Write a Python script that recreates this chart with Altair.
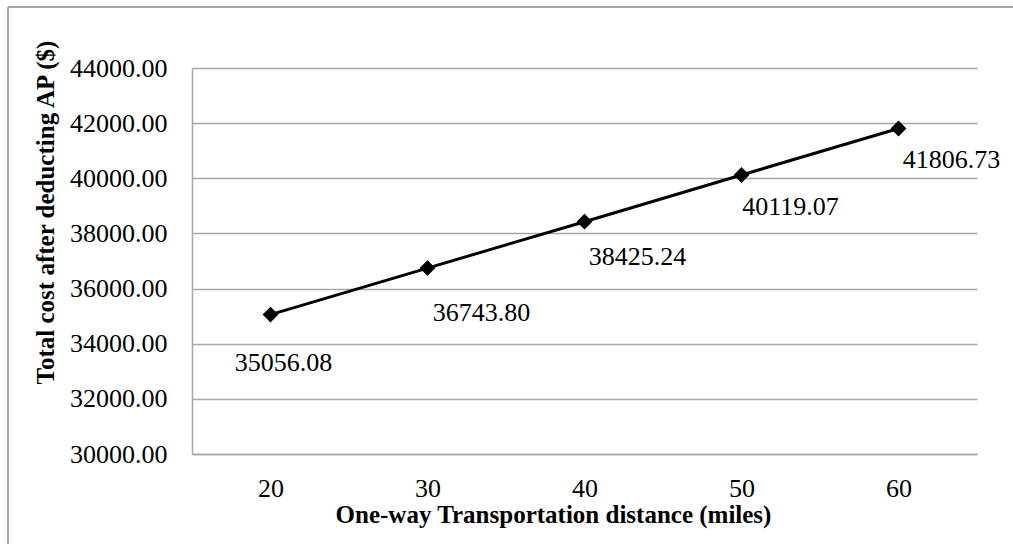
import altair as alt
import pandas as pd

distance = ["20", "30", "40", "50", "60"]
total_cost = [35056.08, 36743.80, 38425.24, 40119.07, 41806.73]
label_text = ["35056.08", "36743.80", "38425.24", "40119.07", "41806.73"]
y_ticks = [30000, 32000, 34000, 36000, 38000, 40000, 42000, 44000]

df = pd.DataFrame({"distance": distance, "cost": total_cost, "label": label_text})

FONT = "Liberation Serif"
GRID = "#a6a6a6"
LFS = 26
TFS = 25

x_enc = alt.X(
    "distance:O",
    sort=distance,
    scale=alt.Scale(type="point", padding=0.5),
    axis=alt.Axis(
        title="One-way Transportation distance (miles)",
        labelAngle=0,
        labelFontSize=LFS,
        labelFont=FONT,
        labelFontWeight=400,
        labelColor="black",
        labelPadding=21,
        ticks=False,
        domain=True,
        domainColor=GRID,
        domainWidth=1.5,
        grid=False,
        titleFont=FONT,
        titleFontSize=TFS,
        titleFontWeight="bold",
        titleColor="black",
        titleX=361,
        titleY=60,
        titleAnchor="middle",
        titleAlign="center",
        titleBaseline="middle",
    ),
)
y_enc = alt.Y(
    "cost:Q",
    scale=alt.Scale(domain=[30000, 44000], nice=False, zero=False),
    axis=alt.Axis(
        title="Total cost after deducting AP ($)",
        values=y_ticks,
        format=".2f",
        labelFontSize=LFS,
        labelFont=FONT,
        labelFontWeight=400,
        labelColor="black",
        labelPadding=25,
        ticks=False,
        domain=True,
        domainColor=GRID,
        domainWidth=1.5,
        grid=True,
        gridColor=GRID,
        gridWidth=1.5,
        titleFont=FONT,
        titleFontSize=TFS,
        titleFontWeight="bold",
        titleColor="black",
        titleX=-147,
        titleY=144,
        titleAngle=-90,
        titleAlign="center",
        titleBaseline="middle",
    ),
)

base = alt.Chart(df)
line = base.mark_line(color="black", strokeWidth=3).encode(x=x_enc, y=y_enc)
points = base.mark_point(shape="diamond", filled=True, color="black", size=250, opacity=1).encode(
    x=alt.X("distance:O", sort=distance), y="cost:Q"
)

offsets = [(13, 48), (54, 45), (53, 35), (49, 32), (53, 32)]
label_layers = []
for d, (dx, dy) in zip(distance, offsets):
    label_layers.append(
        base.transform_filter(alt.datum.distance == d)
        .mark_text(font=FONT, fontSize=LFS, fontWeight=400, color="black", dx=dx, dy=dy,
                   align="center", baseline="middle")
        .encode(x=alt.X("distance:O", sort=distance), y="cost:Q", text="label:N")
    )

frame_df = pd.DataFrame({"a": [0]})
frame_left = alt.Chart(frame_df).mark_rule(color=GRID, strokeWidth=2).encode(
    x=alt.value(-184), y=alt.value(-61), y2=alt.value(480)
)
frame_top = alt.Chart(frame_df).mark_rule(color=GRID, strokeWidth=2).encode(
    x=alt.value(-184), x2=alt.value(830), y=alt.value(-61)
)

chart = alt.layer(line, points, *label_layers, frame_left, frame_top).properties(
    width=785,
    height=386,
    autosize=alt.AutoSizeParams(type="none"),
    padding={"left": 192, "top": 68, "right": 36, "bottom": 90},
    background="white",
).configure_view(stroke=None)

chart.save("out.html", embed_options={"renderer": "svg", "actions": False})
